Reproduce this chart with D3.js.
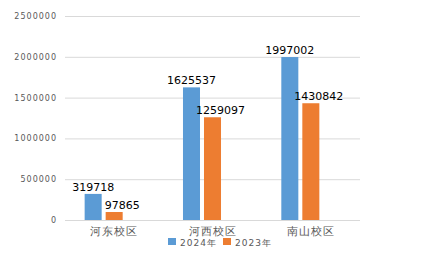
<!doctype html>
<html lang="zh">
<head>
<meta charset="utf-8">
<script src="https://d3js.org/d3.v7.min.js"></script>
<style>
  body { margin: 0; background: #fff; }
  svg text { font-family: "DejaVu Sans", sans-serif; }
</style>
</head>
<body>
<svg id="chart"></svg>
<script>
  const campuses = ["河东校区", "河西校区", "南山校区"];
  const seriesNames = ["2024年", "2023年"];
  const values2024 = [319718, 1625537, 1997002];
  const values2023 = [97865, 1259097, 1430842];
  const yTicks = [0, 500000, 1000000, 1500000, 2000000, 2500000];
  const colors = ["#5b9bd5", "#ed7d31"];

  const width = 446, height = 257;
  const plot = { left: 65, right: 360, top: 16, bottom: 220 };

  const svg = d3.select("#chart").attr("width", width).attr("height", height);

  const x0 = d3.scaleBand().domain(campuses).range([plot.left, plot.right]);
  // three slots per category (third is empty, like the original chart)
  const x1 = d3.scaleBand().domain([0, 1, 2]).range([0, x0.bandwidth()])
    .paddingInner(0.19).paddingOuter(0.935);
  const y = d3.scaleLinear().domain([0, 2500000]).range([plot.bottom, plot.top]);

  // gridlines
  svg.append("g").selectAll("line").data(yTicks).join("line")
    .attr("x1", plot.left).attr("x2", plot.right)
    .attr("y1", d => y(d) + 0.5).attr("y2", d => y(d) + 0.5)
    .attr("stroke", "#d9d9d9").attr("stroke-width", 1);

  // y tick labels
  svg.append("g").selectAll("text").data(yTicks).join("text")
    .attr("x", 57).attr("y", d => y(d) + 3)
    .attr("text-anchor", "end")
    .attr("font-size", 8).attr("letter-spacing", 1)
    .attr("fill", "#595959")
    .text(d => d);

  const series = [values2024, values2023];
  const labelDx = [0, 8];

  series.forEach((vals, si) => {
    const g = svg.append("g");
    g.selectAll("rect").data(vals).join("rect")
      .attr("x", (d, i) => x0(campuses[i]) + x1(si))
      .attr("width", x1.bandwidth())
      .attr("y", d => y(d))
      .attr("height", d => y(0) - y(d))
      .attr("fill", colors[si]);
    g.selectAll("text").data(vals).join("text")
      .attr("x", (d, i) => x0(campuses[i]) + x1(si) + x1.bandwidth() / 2 + labelDx[si])
      .attr("y", d => y(d) - 3)
      .attr("text-anchor", "middle")
      .attr("font-size", 11)
      .attr("fill", "#000")
      .text(d => d);
  });

  // category labels
  svg.append("g").selectAll("text").data(campuses).join("text")
    .attr("x", d => x0(d) + x0.bandwidth() / 2)
    .attr("y", 235)
    .attr("text-anchor", "middle")
    .attr("font-family", "'Noto Sans CJK SC', sans-serif")
    .attr("font-size", 11).attr("letter-spacing", 1)
    .attr("fill", "#595959")
    .text(d => d);

  // legend
  const legend = svg.append("g").attr("transform", "translate(168,238)");
  const item = legend.selectAll("g").data(seriesNames).join("g")
    .attr("transform", (d, i) => `translate(${i * 55},0)`);
  item.append("rect").attr("width", 8).attr("height", 7)
    .attr("fill", (d, i) => colors[i]);
  item.append("text").attr("x", 12).attr("y", 7.5)
    .attr("font-size", 9).attr("letter-spacing", 1)
    .attr("fill", "#595959")
    .text(d => d);
</script>
</body>
</html>
